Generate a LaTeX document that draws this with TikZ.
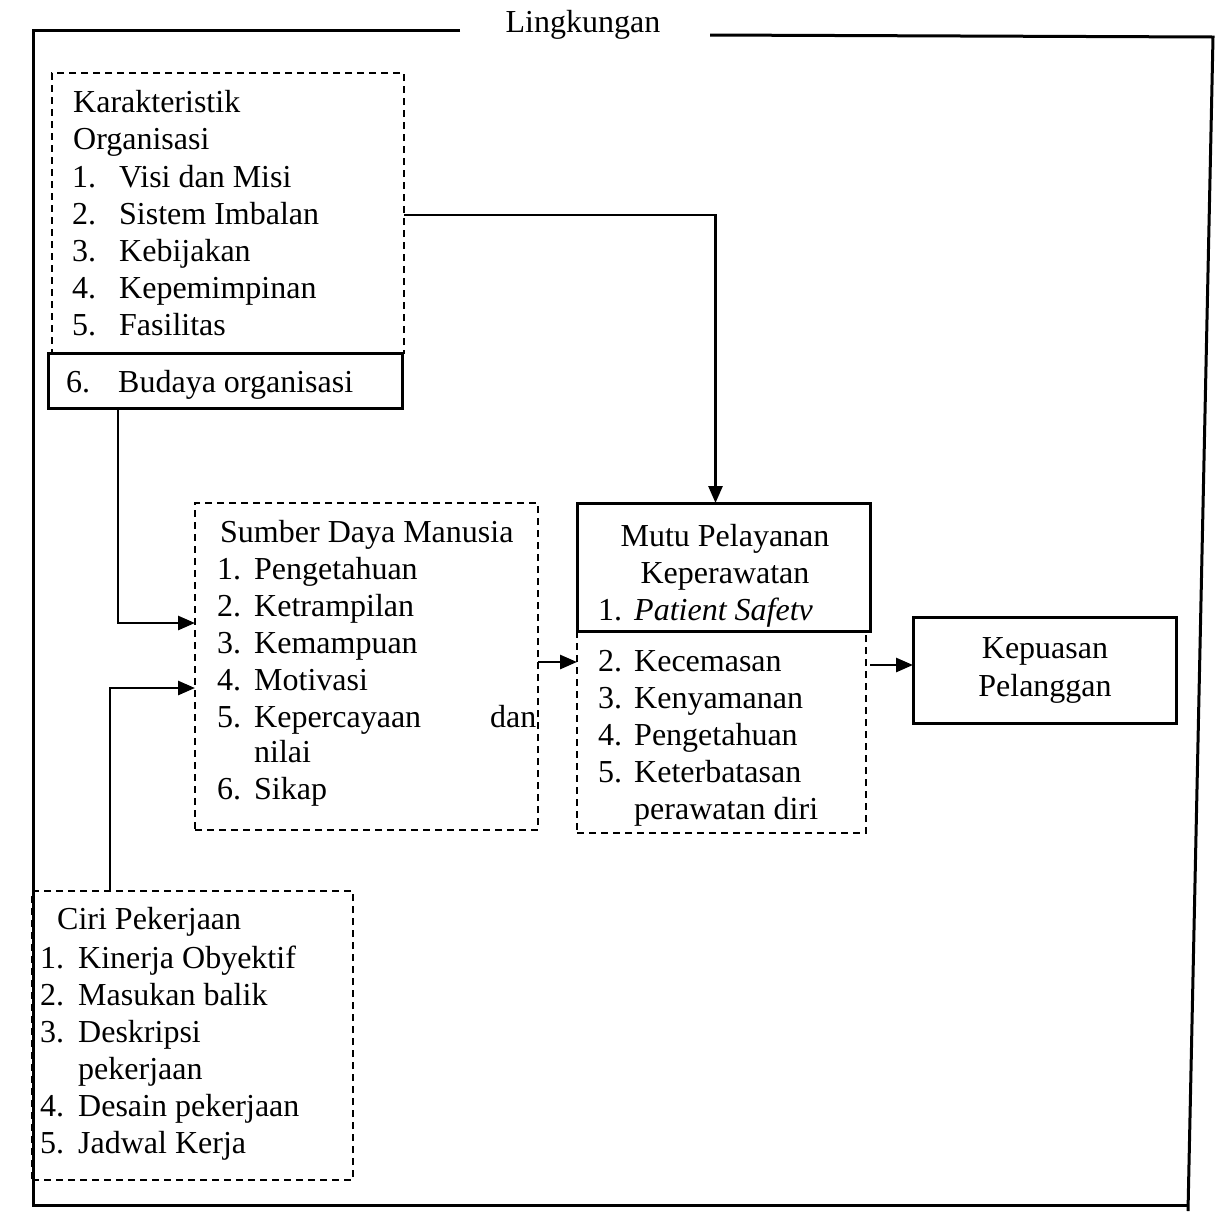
\documentclass[tikz,border=0pt]{standalone}
\usepackage{fontspec}
\setmainfont{Liberation Serif}
\usetikzlibrary{arrows.meta}
\begin{document}
\begin{tikzpicture}[x=1pt,y=-1pt,
  txt/.style={anchor=base west,inner sep=0pt,font=\fontsize{32}{37}\selectfont},
  ctr/.style={anchor=base,inner sep=0pt,font=\fontsize{32}{37}\selectfont},
  frame/.style={line width=3pt},
  box/.style={inner sep=0pt,outer sep=0pt},
  solidbox/.style={box,draw,line width=3pt},
  dashbox/.style={box,draw,line width=2.6pt,dash pattern=on 7pt off 5pt},
  link/.style={line width=2.8pt,-{Triangle[length=17pt,width=14pt]}}]
\useasboundingbox (0,0) rectangle (1217,1211);

% environment frame
\draw[frame] (460,30) -- (33,30) -- (33,1205) -- (1189,1205);
\draw[frame] (710,35) -- (1213,37) -- (1188,1211);
\node[ctr] (env) at (583,32) {Lingkungan};

% boxes
\node[dashbox,minimum width=352pt,minimum height=280pt] (ko) at (228,213) {};
\node[solidbox,fill=white,minimum width=354pt,minimum height=55pt] (budaya) at (225,380.5) {};
\node[dashbox,minimum width=343pt,minimum height=327pt] (sdm) at (366.5,666.5) {};
\node[solidbox,minimum width=293pt,minimum height=128pt] (mutu) at (723.5,567) {};
\node[dashbox,minimum width=289pt,minimum height=202pt] (mutulo) at (721.5,732) {};
\node[solidbox,minimum width=263pt,minimum height=106pt] (kep) at (1044.5,670) {};
\node[dashbox,minimum width=321pt,minimum height=289pt] (ciri) at (192.5,1035.5) {};

% organisation characteristics
\node[txt] (koh1) at (73,112) {Karakteristik};
\node[txt] (koh2) at (73,149) {Organisasi};
\foreach \t [count=\i] in {Visi dan Misi, Sistem Imbalan, Kebijakan, Kepemimpinan, Fasilitas}{
  \node[txt] (kon\i) at (72,{150+37*\i}) {\i.};
  \node[txt] (kot\i) at (119,{150+37*\i}) {\t};
}
\node[txt] (kon6) at (66,392) {6.};
\node[txt] (kot6) at (118,392) {Budaya organisasi};

% human resources
\node[txt] (sdmh) at (220,542) {Sumber Daya Manusia};
\foreach \t [count=\i] in {Pengetahuan, Ketrampilan, Kemampuan, Motivasi, Kepercayaan}{
  \node[txt] (sdn\i) at (217,{542+37*\i}) {\i.};
  \node[txt] (sdt\i) at (254,{542+37*\i}) {\t};
}
\node[txt] (sddan) at (490,727) {dan};
\node[txt] (sdnilai) at (254,762) {nilai};
\node[txt] (sdn6) at (217,799) {6.};
\node[txt] (sdt6) at (254,799) {Sikap};

% service quality
\node[ctr] (mth1) at (725,546) {Mutu Pelayanan};
\node[ctr] (mth2) at (725,583) {Keperawatan};
\node[txt] (mtn1) at (598,620) {1.};
\node[txt] (mtt1) at (634,620) {\itshape Patient Safetv};
\foreach \t [count=\i from 2] in {Kecemasan, Kenyamanan, Pengetahuan, Keterbatasan}{
  \node[txt] (mtn\i) at (598,{597+37*\i}) {\i.};
  \node[txt] (mtt\i) at (634,{597+37*\i}) {\t};
}
\node[txt] (mtt6) at (634,819) {perawatan diri};

% customer satisfaction
\node[ctr] (kep1) at (1045,658) {Kepuasan};
\node[ctr] (kep2) at (1045,696) {Pelanggan};

% job characteristics
\node[txt] (cih) at (57,929) {Ciri Pekerjaan};
\node[txt] (cin1) at (40,968) {1.};
\node[txt] (cit1) at (78,968) {Kinerja Obyektif};
\node[txt] (cin2) at (40,1005) {2.};
\node[txt] (cit2) at (78,1005) {Masukan balik};
\node[txt] (cin3) at (40,1042) {3.};
\node[txt] (cit3) at (78,1042) {Deskripsi};
\node[txt] (cit3b) at (78,1079) {pekerjaan};
\node[txt] (cin4) at (40,1116) {4.};
\node[txt] (cit4) at (78,1116) {Desain pekerjaan};
\node[txt] (cin5) at (40,1153) {5.};
\node[txt] (cit5) at (78,1153) {Jadwal Kerja};

% connectors
\draw[link] ([yshift=-2pt]ko.east) -| ([xshift=-8pt]mutu.north);
\draw[link] ([xshift=-107pt]budaya.south) |- ([yshift=43.5pt]sdm.west);
\draw[link] ([xshift=-82.5pt]ciri.north) |- ([yshift=-21.5pt]sdm.west);
\draw[link] ([yshift=4.5pt]sdm.east) -- ([yshift=4.5pt]sdm.east -| mutulo.west);
\draw[link] ([yshift=5pt]kep.west -| mutu.east) -- ([yshift=5pt]kep.west);
\end{tikzpicture}
\end{document}
